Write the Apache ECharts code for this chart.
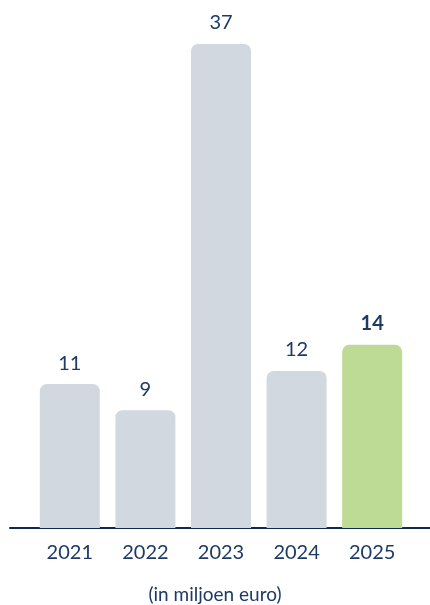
<!DOCTYPE html>
<html>
<head>
<meta charset="utf-8">
<script src="https://cdn.jsdelivr.net/npm/echarts@6/dist/echarts.min.js"></script>
<style>
  html, body { margin: 0; padding: 0; background: #ffffff; }
  #chart { width: 430px; height: 605px; }
</style>
</head>
<body>
<div id="chart"></div>
<script>
const years = ['2021', '2022', '2023', '2024', '2025']
const values = [11, 9, 37, 12, 14]
const highlightYear = '2025'
const unitLabel = '(in miljoen euro)'

const navy = '#1c3a63'
const barGray = '#d2d8e0'
const barGreen = '#bddb95'
const font = 'Lato'

const chart = echarts.init(document.getElementById('chart'))

const barData = values.map((v, i) => {
  const hi = years[i] === highlightYear
  return {
    value: v,
    itemStyle: { color: hi ? barGreen : barGray },
    label: { fontWeight: hi ? 700 : 400 }
  }
})

const option = {
  animation: false,
  backgroundColor: '#ffffff',
  textStyle: { fontFamily: font },
  grid: [
    { left: 32, right: 20, top: 44, bottom: 77 },
    // wider grid only used for the long baseline
    { left: 10, right: 0, top: 44, bottom: 77 }
  ],
  title: {
    text: unitLabel,
    left: 'center',
    bottom: 1,
    padding: 0,
    textStyle: { fontFamily: font, fontSize: 19, fontWeight: 400, color: navy }
  },
  xAxis: [
    {
      type: 'category',
      data: years,
      gridIndex: 0,
      axisLine: { show: false },
      axisTick: { show: false },
      axisLabel: { color: navy, fontSize: 20, fontFamily: font, margin: 15 }
    },
    {
      type: 'value',
      gridIndex: 1,
      min: 0,
      max: 1,
      axisLine: { show: true, lineStyle: { color: '#0e2a50', width: 2 } },
      axisTick: { show: false },
      axisLabel: { show: false },
      splitLine: { show: false }
    }
  ],
  yAxis: [
    { type: 'value', gridIndex: 0, min: 0, max: 37, show: false },
    { type: 'value', gridIndex: 1, min: 0, max: 1, show: false }
  ],
  series: [
    {
      type: 'bar',
      xAxisIndex: 0,
      yAxisIndex: 0,
      data: barData,
      barWidth: 60,
      itemStyle: { borderRadius: [7, 7, 0, 0] },
      label: {
        show: true,
        position: 'top',
        distance: 11,
        color: navy,
        fontSize: 20,
        fontFamily: font,
        lineHeight: 20
      }
    }
  ]
}

chart.setOption(option)
</script>
</body>
</html>
